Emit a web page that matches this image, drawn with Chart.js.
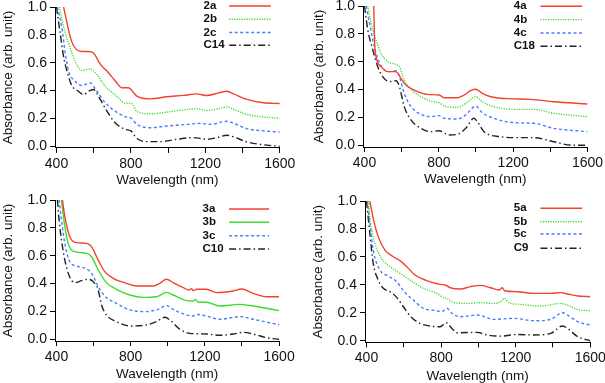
<!DOCTYPE html>
<html><head><meta charset="utf-8">
<script src="https://cdn.jsdelivr.net/npm/chart.js@4.4.1/dist/chart.umd.min.js"></script>
<style>
html,body{margin:0;padding:0;background:#fff;overflow:hidden;width:605px;height:383px;position:relative}
canvas{position:absolute}
</style>
</head><body>
<script>
// ---- tick values ----
const xTicks = [400, 600, 800, 1000, 1200, 1400, 1600];
const xTickLabels = ['400', '', '800', '', '1200', '', '1600'];
const yTicks = [0, 0.2, 0.4, 0.6, 0.8, 1.0];
const yTickLabels = ['0.0', '0.2', '0.4', '0.6', '0.8', '1.0'];
const xTitle = 'Wavelength (nm)';
const yTitle = 'Absorbance (arb. unit)';

// ---- panel 1 ----
const labels1 = ['2a', '2b', '2c', 'C14'];
const wl2a = [438,482,536,572,599,635,671,715,751,787,805,832,904,993,1083,1154,1208,1271,1316,1352,1423,1513,1600];
const ab2a = [1.0,0.75,0.68,0.68,0.67,0.59,0.54,0.47,0.42,0.42,0.40,0.36,0.34,0.355,0.365,0.376,0.364,0.383,0.395,0.376,0.336,0.312,0.307];
const wl2b = [416,438,465,500,536,581,617,662,715,769,805,832,904,993,1101,1154,1208,1271,1316,1352,1423,1513,1600];
const ab2b = [1.0,0.86,0.74,0.61,0.545,0.555,0.514,0.43,0.37,0.31,0.305,0.25,0.233,0.245,0.264,0.269,0.257,0.269,0.283,0.264,0.229,0.21,0.202];
const wl2c = [405,429,447,465,500,536,581,617,662,715,769,800,832,904,993,1101,1172,1226,1316,1352,1423,1513,1600];
const ab2c = [1.0,0.85,0.67,0.54,0.467,0.436,0.455,0.395,0.312,0.252,0.212,0.202,0.157,0.133,0.145,0.157,0.164,0.157,0.179,0.164,0.126,0.11,0.102];
const wlC14 = [400,420,438,465,482,518,545,572,599,635,671,715,769,800,832,886,957,1047,1136,1208,1262,1316,1352,1423,1513,1600];
const abC14 = [1.0,0.81,0.645,0.50,0.436,0.395,0.371,0.395,0.407,0.336,0.252,0.169,0.121,0.11,0.055,0.033,0.033,0.05,0.062,0.05,0.062,0.079,0.067,0.031,0.01,0.0];

// ---- panel 2 ----
const labels2 = ['4a', '4b', '4c', 'C18'];
const wl4a = [450,454,462,489,525,561,579,596,623,668,739,802,829,900,936,971,998,1034,1079,1168,1293,1418,1600];
const ab4a = [1.0,0.756,0.636,0.565,0.529,0.529,0.52,0.48,0.433,0.397,0.366,0.361,0.342,0.342,0.361,0.392,0.402,0.373,0.349,0.335,0.33,0.313,0.297];
const wl4b = [418,436,462,489,525,570,588,614,650,721,766,802,829,900,945,998,1034,1096,1204,1311,1418,1600];
const ab4b = [1.0,0.876,0.756,0.66,0.6,0.581,0.565,0.469,0.402,0.337,0.313,0.306,0.282,0.273,0.301,0.349,0.313,0.277,0.258,0.258,0.23,0.206];
const wl4c = [409,427,445,471,498,534,570,588,614,650,704,757,802,829,900,945,998,1034,1096,1204,1311,1418,1600];
const ab4c = [1.0,0.876,0.756,0.624,0.553,0.529,0.536,0.493,0.373,0.278,0.222,0.206,0.213,0.194,0.189,0.218,0.282,0.234,0.194,0.163,0.158,0.122,0.098];
const wlC18 = [400,418,445,471,498,534,570,588,614,650,704,757,802,855,900,945,989,1007,1043,1132,1221,1311,1418,1507,1600];
const abC18 = [1.0,0.828,0.684,0.565,0.493,0.457,0.464,0.421,0.278,0.182,0.122,0.098,0.105,0.074,0.079,0.122,0.194,0.17,0.098,0.062,0.055,0.055,0.026,0.002,0.0];

// ---- panel 3 ----
const labels3 = ['3a', '3b', '3c', 'C10'];
const wl3a = [432,445,472,508,562,589,625,660,705,777,831,921,957,993,1029,1083,1115,1128,1137,1155,1208,1262,1352,1397,1460,1532,1600];
const ab3a = [1.0,0.88,0.737,0.694,0.689,0.665,0.569,0.486,0.438,0.402,0.383,0.383,0.402,0.431,0.407,0.371,0.354,0.364,0.349,0.359,0.359,0.335,0.347,0.361,0.33,0.306,0.306];
const wl3b = [427,440,463,499,562,589,625,669,723,795,867,939,993,1029,1101,1140,1149,1164,1208,1280,1388,1460,1600];
const ab3b = [1.0,0.856,0.689,0.629,0.617,0.593,0.498,0.407,0.359,0.318,0.301,0.306,0.337,0.318,0.278,0.275,0.287,0.266,0.266,0.239,0.251,0.239,0.206];
const wl3c = [414,427,445,472,508,562,589,625,660,723,795,885,948,993,1029,1101,1137,1155,1208,1280,1388,1460,1600];
const ab3c = [1.0,0.856,0.689,0.557,0.526,0.505,0.474,0.378,0.311,0.258,0.211,0.199,0.215,0.242,0.215,0.175,0.167,0.179,0.167,0.144,0.163,0.144,0.105];
const wlC10 = [405,414,427,445,472,499,535,571,598,625,643,669,723,795,885,939,984,1011,1065,1119,1208,1280,1352,1406,1460,1532,1600];
const abC10 = [1.0,0.856,0.713,0.569,0.445,0.407,0.421,0.431,0.414,0.354,0.246,0.175,0.127,0.096,0.103,0.127,0.158,0.139,0.072,0.043,0.038,0.029,0.038,0.05,0.038,0.012,0.0];

// ---- panel 4 ----
const labels4 = ['5a', '5b', '5c', 'C9'];
const wl5a = [418,436,463,499,544,580,616,660,723,795,822,849,903,957,1011,1065,1110,1128,1140,1208,1298,1388,1442,1478,1532,1600];
const ab5a = [1.0,0.876,0.745,0.649,0.601,0.573,0.53,0.47,0.43,0.403,0.399,0.379,0.37,0.387,0.396,0.379,0.363,0.379,0.358,0.351,0.339,0.339,0.344,0.334,0.32,0.315];
const wl5b = [409,422,445,481,526,580,634,705,777,813,831,867,939,1011,1083,1119,1140,1163,1226,1334,1442,1478,1532,1600];
const ab5b = [1.0,0.84,0.697,0.589,0.53,0.482,0.434,0.375,0.339,0.308,0.303,0.274,0.267,0.272,0.267,0.279,0.303,0.272,0.26,0.248,0.267,0.255,0.224,0.215];
const wl5c = [405,418,436,472,517,562,598,651,705,777,804,831,858,903,993,1083,1190,1298,1388,1451,1478,1532,1600];
const ab5c = [1.0,0.84,0.649,0.506,0.463,0.422,0.358,0.291,0.232,0.215,0.208,0.232,0.196,0.172,0.184,0.153,0.16,0.143,0.153,0.2,0.184,0.136,0.112];
const wlC9 = [400,418,436,463,490,526,562,598,634,687,741,795,827,858,885,993,1047,1119,1208,1298,1388,1451,1478,1532,1600];
const abC9 = [1.0,0.768,0.554,0.434,0.375,0.351,0.31,0.243,0.177,0.124,0.105,0.1,0.129,0.088,0.057,0.06,0.041,0.033,0.045,0.041,0.053,0.105,0.088,0.029,0.0];

// ---- styling ----
const FONT = '"Liberation Sans", Arial, Helvetica, sans-serif';
const STYLES = [
  {color: '#f4412d', dash: []},
  {color: '#3ddc2e', dash: [1.2, 1.3]},
  {color: '#4a7dff', dash: [3, 2.5]},
  {color: '#222222', dash: [7, 3, 1.5, 3]}
];

const lineLegend = {
  id: 'lineLegend',
  afterDraw(chart, args, o) {
    const ctx = chart.ctx;
    ctx.save();
    ctx.font = 'bold 11.5px ' + FONT;
    ctx.textBaseline = 'middle';
    ctx.textAlign = 'left';
    chart.data.datasets.forEach((ds, i) => {
      const y = o.rows[i];
      ctx.fillStyle = '#111';
      ctx.fillText(ds.label, o.tx, y);
      ctx.beginPath();
      ctx.setLineDash(ds.borderDash || []);
      ctx.strokeStyle = ds.borderColor;
      ctx.lineWidth = ds.borderWidth;
      ctx.moveTo(o.x1, y);
      ctx.lineTo(o.x2, y);
      ctx.stroke();
    });
    ctx.restore();
  }
};

function makePanel(p) {
  const cx = p.area.l - 70, cy = p.area.t - 20;
  const cw = p.area.r + 30 - cx, ch = p.xTitleY + 15 - cy;
  const cv = document.createElement('canvas');
  cv.width = Math.round(cw); cv.height = Math.round(ch);
  cv.style.left = cx + 'px'; cv.style.top = cy + 'px';
  cv.style.width = Math.round(cw) + 'px'; cv.style.height = Math.round(ch) + 'px';
  document.body.appendChild(cv);
  const half = 13.5 * 1.2 / 2;
  const yW = p.area.l - (p.yTitleX - half);
  const xH = p.xTitleY + half - p.area.b;
  const datasets = p.series.map((s, i) => {
    const st = (p.styles && p.styles[i]) ? p.styles[i] : STYLES[i];
    return {
      label: p.labels[i],
      data: s[0].map((x, k) => ({x: x, y: s[1][k]})),
      borderColor: st.color,
      borderDash: st.dash,
      borderWidth: 1.4,
      pointRadius: 0,
      fill: false,
      cubicInterpolationMode: 'monotone'
    };
  });
  new Chart(cv, {
    type: 'line',
    data: {datasets},
    plugins: [lineLegend],
    options: {
      responsive: false,
      animation: false,
      devicePixelRatio: 1,
      layout: {padding: {
        left: (p.yTitleX - half) - cx,
        top: p.area.t - cy,
        right: cx + Math.round(cw) - p.area.r,
        bottom: cy + Math.round(ch) - (p.xTitleY + half)
      }},
      plugins: {
        legend: {display: false},
        tooltip: {enabled: false},
        lineLegend: {
          tx: p.leg.tx - cx, x1: p.leg.x1 - cx, x2: p.leg.x2 - cx,
          rows: p.leg.rows.map(r => r - cy)
        }
      },
      scales: {
        x: {
          type: 'linear', min: 392, max: 1600,
          afterBuildTicks: s => { s.ticks = xTicks.map(v => ({value: v})); },
          afterFit: s => { s.height = xH; },
          grid: {display: true, drawOnChartArea: false, drawTicks: true, tickLength: 5, color: '#000', lineWidth: 1},
          border: {display: true, color: '#000', width: 1},
          ticks: {
            autoSkip: false, maxRotation: 0, padding: 4, color: '#111',
            font: {family: FONT, size: 14, lineHeight: 1},
            callback: (v) => { const i = xTicks.indexOf(v); return i >= 0 ? xTickLabels[i] : ''; }
          },
          title: {display: true, text: xTitle, color: '#111', padding: 0,
                  font: {family: FONT, size: 13.5, lineHeight: 1.2}}
        },
        y: {
          type: 'linear', min: -0.012, max: 1.0,
          afterBuildTicks: s => { s.ticks = yTicks.map(v => ({value: v})); },
          afterFit: s => { s.width = yW; },
          grid: {display: true, drawOnChartArea: false, drawTicks: true, tickLength: 5, color: '#000', lineWidth: 1},
          border: {display: true, color: '#000', width: 1},
          ticks: {
            autoSkip: false, padding: 3, color: '#111',
            font: {family: FONT, size: 14, lineHeight: 1},
            callback: (v) => { const i = yTicks.findIndex(t => Math.abs(t - v) < 1e-9); return i >= 0 ? yTickLabels[i] : ''; }
          },
          title: {display: true, text: yTitle, color: '#111', padding: 0,
                  font: {family: FONT, size: 13.5, lineHeight: 1.2}}
        }
      }
    }
  });
}

makePanel({
  area: {l: 54.8, r: 279.6, t: 7.3, b: 148.2}, xTitleY: 180.3, yTitleX: 8.3,
  labels: labels1,
  series: [[wl2a, ab2a], [wl2b, ab2b], [wl2c, ab2c], [wlC14, abC14]],
  leg: {tx: 203.3, x1: 229, x2: 270.7, rows: [6.3, 19.6, 32.8, 45.5]}
});
makePanel({
  area: {l: 362.5, r: 587, t: 5.7, b: 146.7}, xTitleY: 179.2, yTitleX: 319.2,
  labels: labels2,
  series: [[wl4a, ab4a], [wl4b, ab4b], [wl4c, ab4c], [wlC18, abC18]],
  leg: {tx: 513.3, x1: 540, x2: 581.7, rows: [6, 19.3, 32.7, 46]}
});
makePanel({
  area: {l: 55.2, r: 279.3, t: 200, b: 341}, xTitleY: 374.2, yTitleX: 8.3,
  labels: labels3,
  series: [[wl3a, ab3a], [wl3b, ab3b], [wl3c, ab3c], [wlC10, abC10]],
  styles: [STYLES[0], {color: '#3ddc2e', dash: []}, STYLES[2], STYLES[3]],
  leg: {tx: 202.7, x1: 229.3, x2: 269.3, rows: [209, 222.3, 235.7, 249]}
});
makePanel({
  area: {l: 364.5, r: 589.8, t: 201, b: 342.4}, xTitleY: 376.7, yTitleX: 317.5,
  labels: labels4,
  series: [[wl5a, ab5a], [wl5b, ab5b], [wl5c, ab5c], [wlC9, abC9]],
  leg: {tx: 513.3, x1: 540, x2: 581.7, rows: [208.3, 221.7, 234, 248.3]}
});
</script>
</body></html>
